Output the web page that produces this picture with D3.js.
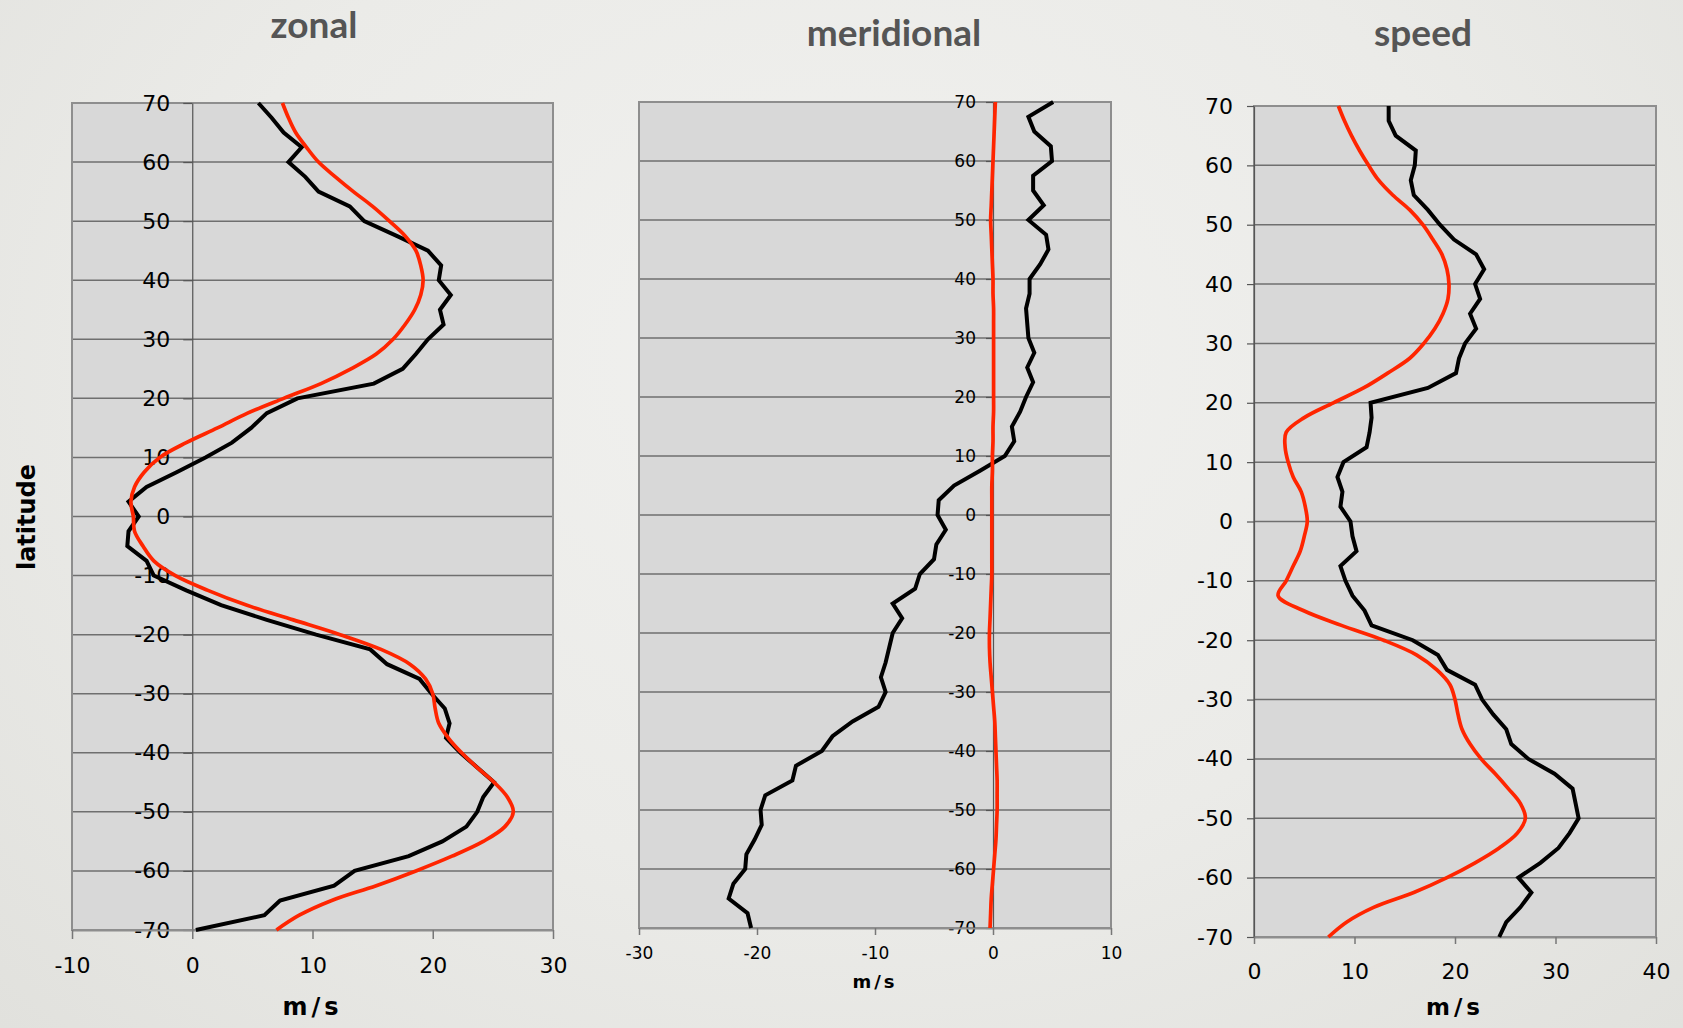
<!DOCTYPE html>
<html>
<head>
<meta charset="utf-8">
<script src="https://cdn.jsdelivr.net/npm/d3@7"></script>
<style>
  html, body { margin: 0; padding: 0; }
  body { width: 1683px; height: 1028px; overflow: hidden;
         background: radial-gradient(ellipse at 50% 35%, #f1f1ef 0%, #ebebe8 55%, #e1e1dd 100%); }
  .tick text { fill: #000; }
</style>
</head>
<body>
<div id="chart"></div>
<script>
const width = 1683;
const height = 1028;

// latitude of every sample, north to south
const latitudes = [70, 67.5, 65, 62.5, 60, 57.5, 55, 52.5, 50, 47.5, 45, 42.5, 40, 37.5, 35, 32.5, 30, 27.5, 25, 22.5,
    20, 17.5, 15, 12.5, 10, 7.5, 5, 2.5, 0, -2.5, -5, -7.5, -10, -12.5, -15, -17.5, -20, -22.5, -25, -27.5,
    -30, -32.5, -35, -37.5, -40, -42.5, -45, -47.5, -50, -52.5, -55, -57.5, -60, -62.5, -65, -67.5, -70];

const zonalBlack = [5.5, 6.6, 7.6, 9.1, 8.0, 9.4, 10.5, 13.1, 14.3, 17.0, 19.6, 20.7, 20.5, 21.5, 20.6, 20.9, 19.6, 18.6, 17.5, 15.1,
    8.75, 6.2, 4.9, 3.3, 1.1, -1.3, -3.8, -5.3, -4.45, -5.3, -5.4, -3.8, -3.2, -0.5, 2.4, 6.2, 10.3, 14.8, 16.2, 18.9,
    19.9, 21.0, 21.4, 21.1, 22.3, 23.7, 25.1, 24.2, 23.7, 22.8, 20.8, 18.0, 13.5, 11.8, 7.3, 6.0, 0.3];
const zonalRed = [7.5, 8.0, 8.6, 9.5, 10.5, 11.9, 13.4, 15.0, 16.4, 17.7, 18.6, 19.0, 19.2, 19.0, 18.5, 17.7, 16.7, 15.3, 13.2, 10.7,
    7.6, 4.6, 2.1, -0.5, -2.7, -4.0, -4.8, -5.1, -4.9, -4.8, -4.1, -3.2, -1.4, 1.3, 4.5, 8.4, 12.3, 15.7, 18.1, 19.4,
    20.0, 20.2, 20.5, 21.3, 22.4, 23.7, 25.1, 26.2, 26.7, 26.0, 24.2, 21.6, 18.6, 15.3, 11.6, 8.9, 7.0];

const meridBlack = [5.1, 3.0, 3.5, 4.9, 5.0, 3.4, 3.4, 4.3, 3.0, 4.5, 4.7, 4.0, 3.1, 3.1, 2.8, 2.9, 3.0, 3.5, 2.9, 3.4,
    2.8, 2.3, 1.6, 1.8, 1.0, -1.1, -3.3, -4.6, -4.7, -4.0, -4.8, -5.0, -6.2, -6.6, -8.5, -7.7, -8.5, -8.8, -9.1, -9.5,
    -9.1, -9.7, -11.9, -13.6, -14.5, -16.7, -17.0, -19.3, -19.7, -19.6, -20.2, -20.9, -21.0, -22.0, -22.4, -20.8, -20.5];
const meridRed = [0.2, 0.15, 0.1, 0.05, 0, -0.05, -0.1, -0.15, -0.2, -0.15, -0.1, -0.05, 0, 0, 0.05, 0.05, 0.05, 0.05, 0.05, 0.05,
    0.05, 0.05, 0, 0, -0.05, -0.05, -0.1, -0.1, -0.1, -0.1, -0.1, -0.1, -0.1, -0.15, -0.2, -0.25, -0.3, -0.3, -0.25, -0.15,
    -0.05, 0.05, 0.15, 0.2, 0.25, 0.3, 0.35, 0.35, 0.35, 0.3, 0.25, 0.15, 0.05, -0.05, -0.15, -0.2, -0.25];

const speedBlack = [13.4, 13.4, 14.1, 16.1, 16.0, 15.6, 15.9, 17.3, 18.5, 19.9, 22.1, 22.9, 22.0, 22.5, 21.5, 22.1, 21.0, 20.4, 20.1, 17.3,
    11.6, 11.7, 11.5, 11.2, 8.9, 8.3, 8.8, 8.6, 9.6, 9.8, 10.2, 8.6, 9.1, 9.8, 11.0, 11.7, 15.8, 18.3, 19.2, 22.0,
    22.7, 23.8, 25.1, 25.6, 27.3, 29.9, 31.7, 32.0, 32.3, 31.4, 30.3, 28.5, 26.3, 27.6, 26.5, 25.1, 24.4];
const speedRed = [8.4, 9.0, 9.7, 10.5, 11.4, 12.4, 13.8, 15.5, 16.8, 17.8, 18.7, 19.2, 19.4, 19.3, 18.8, 18.0, 16.9, 15.5, 13.3, 10.9,
    7.9, 5.0, 3.2, 3.1, 3.4, 3.9, 4.7, 5.1, 5.3, 5.0, 4.6, 3.9, 3.2, 2.4, 4.9, 8.7, 12.9, 16.2, 18.2, 19.5,
    20.0, 20.3, 20.7, 21.5, 22.6, 24.0, 25.3, 26.5, 27.0, 26.2, 24.4, 22.0, 19.2, 15.9, 11.9, 9.2, 7.4];

const latTicks = [70, 60, 50, 40, 30, 20, 10, 0, -10, -20, -30, -40, -50, -60, -70];

const panels = [
    { title: "zonal", black: zonalBlack, red: zonalRed, xDomain: [-10, 30], xTicks: [-10, 0, 10, 20, 30],
      left: 72, right: 553, top: 103, bottom: 930, yAxisAt: 0, font: 22, tick: 9, yPad: 13, xPad: 18,
      titleX: 314, titleY: 38, unitY: 1015, unitFont: 24, unitSpacing: 4 },
    { title: "meridional", black: meridBlack, red: meridRed, xDomain: [-30, 10], xTicks: [-30, -20, -10, 0, 10],
      left: 639, right: 1111, top: 102, bottom: 928, yAxisAt: 0, font: 17, tick: 7, yPad: 10, xPad: 12,
      titleX: 894, titleY: 46, unitY: 988, unitFont: 18, unitSpacing: 3 },
    { title: "speed", black: speedBlack, red: speedRed, xDomain: [0, 40], xTicks: [0, 10, 20, 30, 40],
      left: 1254, right: 1656, top: 106, bottom: 937, yAxisAt: null, font: 22, tick: 7, yPad: 14, xPad: 19,
      titleX: 1423, titleY: 46, unitY: 1015, unitFont: 23, unitSpacing: 4 }
];

const svg = d3.select("#chart")
    .append("svg")
        .attr("width", width)
        .attr("height", height)
        .attr("font-family", "'DejaVu Sans', Verdana, sans-serif");

function drawPanel(p) {
    const x = d3.scaleLinear().domain(p.xDomain).range([p.left, p.right]);
    const y = d3.scaleLinear().domain([-70, 70]).range([p.bottom, p.top]);
    const g = svg.append("g");
    const plain = d => String(d); // hyphen minus, as in the original

    // plot area
    g.append("rect")
        .attr("x", p.left).attr("y", p.top)
        .attr("width", p.right - p.left).attr("height", p.bottom - p.top)
        .attr("fill", "#d8d8d8");

    // horizontal gridlines
    g.append("g").selectAll("line")
        .data(latTicks)
        .join("line")
            .attr("x1", p.left).attr("x2", p.right)
            .attr("y1", d => y(d)).attr("y2", d => y(d))
            .attr("stroke", "#6f6f6f")
            .attr("stroke-width", 1.5);

    g.append("rect")
        .attr("x", p.left).attr("y", p.top)
        .attr("width", p.right - p.left).attr("height", p.bottom - p.top)
        .attr("fill", "none")
        .attr("stroke", "#8e8e8e")
        .attr("stroke-width", 2);

    // y axis, crossing at x = 0 when that is inside the domain
    const axisX = p.yAxisAt === null ? p.left : x(p.yAxisAt);
    const yAxis = g.append("g")
        .attr("transform", `translate(${axisX},0)`)
        .call(d3.axisLeft(y).tickValues(latTicks).tickFormat(plain)
            .tickSize(p.tick).tickPadding(p.yPad).tickSizeOuter(0));
    yAxis.select(".domain").attr("stroke", "#555").attr("stroke-width", 1.2);
    yAxis.selectAll(".tick line").attr("stroke", "#555").attr("stroke-width", 1.2);
    yAxis.selectAll("text").attr("font-size", p.font).attr("font-family", "'DejaVu Sans', sans-serif");

    const xAxis = g.append("g")
        .attr("transform", `translate(0,${p.bottom})`)
        .call(d3.axisBottom(x).tickValues(p.xTicks).tickFormat(plain)
            .tickSize(p.tick).tickPadding(p.xPad).tickSizeOuter(0));
    xAxis.select(".domain").attr("stroke", "#8e8e8e").attr("stroke-width", 2);
    xAxis.selectAll(".tick line").attr("stroke", "#777").attr("stroke-width", 1.5);
    xAxis.selectAll("text").attr("font-size", p.font).attr("font-family", "'DejaVu Sans', sans-serif");

    const pts = s => latitudes.map((lat, i) => [s[i], lat]);
    const redLine = d3.line().x(d => x(d[0])).y(d => y(d[1])).curve(d3.curveCatmullRom.alpha(0.5));
    const blackLine = d3.line().x(d => x(d[0])).y(d => y(d[1]));

    g.append("path")
        .attr("d", blackLine(pts(p.black)))
        .attr("fill", "none")
        .attr("stroke", "#000")
        .attr("stroke-width", 4)
        .attr("stroke-linejoin", "miter");

    g.append("path")
        .attr("d", redLine(pts(p.red)))
        .attr("fill", "none")
        .attr("stroke", "#ff2500")
        .attr("stroke-width", 3.7)
        .attr("stroke-linejoin", "round");

    // titles
    svg.append("text")
        .attr("x", p.titleX)
        .attr("y", p.titleY)
        .attr("text-anchor", "middle")
        .attr("font-family", "Lato, 'Open Sans', sans-serif")
        .attr("font-weight", 700)
        .attr("font-size", 37)
        .attr("fill", "#555")
        .text(p.title);

    svg.append("text")
        .attr("x", (p.left + p.right) / 2)
        .attr("y", p.unitY)
        .attr("text-anchor", "middle")
        .attr("font-weight", 700)
        .attr("font-size", p.unitFont)
        .attr("letter-spacing", p.unitSpacing)
        .text("m/s");
}

panels.forEach(drawPanel);

svg.append("text")
    .attr("transform", "translate(35,517) rotate(-90)")
    .attr("text-anchor", "middle")
    .attr("font-weight", 700)
    .attr("font-size", 24)
    .text("latitude");
</script>
</body>
</html>
